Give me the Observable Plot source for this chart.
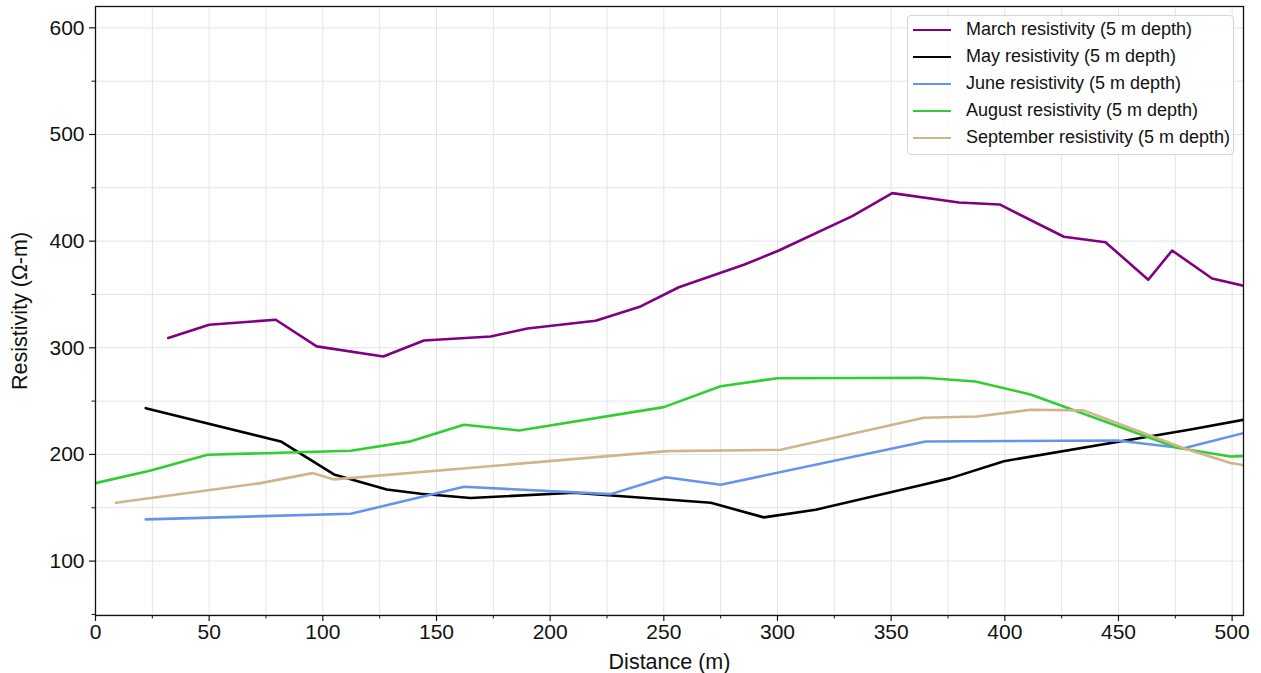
<!DOCTYPE html>
<html>
<head>
<meta charset="utf-8">
<script src="https://cdn.jsdelivr.net/npm/d3@7"></script>
<script src="https://cdn.jsdelivr.net/npm/@observablehq/plot@0.6"></script>
<style>
  html, body { margin: 0; padding: 0; background: #fff; }
  #wrap { position: relative; width: 1261px; height: 673px; font-family: "Liberation Sans", Arial, sans-serif; }
  #legend { position: absolute; left: 907px; top: 15px; width: 327px; height: 140px; box-sizing: border-box;
    border: 1px solid #d4d4d4; border-radius: 4px; background: rgba(255,255,255,0.85); padding: 0 0 0 5px; }
  .row { height: 27px; display: flex; align-items: center; font-size: 18px; color: #111; white-space: nowrap; }
  .sw { width: 38px; height: 0; border-top: 2.6px solid #000; margin-right: 15px; }
</style>
</head>
<body>
<div id="wrap"><div id="legend"></div></div>
<script>
// ---- data ----
const marchDist = [32, 50, 79.3, 97.3, 126.6, 144.5, 173.8, 190, 220, 239.8, 256.6, 285.2, 300.6, 332.9, 350.5, 379.8, 397.7, 426, 444.3, 463.1, 473.6, 491.2, 505];
const marchRes  = [309.2, 321.6, 326.3, 301.3, 291.9, 306.9, 310.6, 318.1, 325.3, 338.8, 356.8, 377.8, 391.2, 423.4, 445, 436.2, 434.4, 404.1, 399, 363.8, 391.2, 365, 358.2];

const mayDist = [22.1, 81.5, 104.9, 128.1, 143.1, 165, 210.5, 270.7, 294, 316.8, 364.4, 376.1, 399.6, 481.7, 505];
const mayRes  = [243.4, 212.2, 181.3, 167.2, 163.2, 159.1, 164.1, 154.7, 141, 148.2, 171.9, 177.8, 193.7, 223.4, 232.5];

const juneDist = [22.1, 112.3, 162.1, 226.6, 250.8, 275, 365.1, 449.4, 478.7, 505];
const juneRes  = [139.1, 144.4, 169.7, 162.8, 178.7, 171.6, 212.2, 213.1, 205.8, 220];

const augDist = [0, 24.3, 49.3, 112.3, 138, 162.1, 186.3, 250, 275, 299.9, 364.4, 387.1, 411.3, 425.9, 475.8, 499.3, 505];
const augRes  = [173.1, 185, 199.7, 203.5, 212, 227.9, 222.5, 244.4, 264, 271.5, 271.9, 268.4, 256.3, 245, 206.3, 198.1, 198.4];

const sepDist = [9, 72.7, 95.4, 104.9, 251.5, 301.4, 364.4, 387.9, 411.3, 434.7, 478.7, 499.3, 505];
const sepRes  = [154.7, 173.1, 182.5, 176.6, 203.1, 204.4, 234.4, 235.6, 241.9, 241.3, 205.8, 191.9, 190];

const seriesNames  = ["March resistivity (5 m depth)", "May resistivity (5 m depth)", "June resistivity (5 m depth)", "August resistivity (5 m depth)", "September resistivity (5 m depth)"];
const seriesColors = ["#800080", "#000000", "#6495ED", "#32CD32", "#D2B48C"];
const seriesDist = [marchDist, mayDist, juneDist, augDist, sepDist];
const seriesRes  = [marchRes, mayRes, juneRes, augRes, sepRes];

const xMajor = d3.range(0, 501, 50);
const xMinor = d3.range(25, 505, 50);
const yMajor = d3.range(100, 601, 100);
const yMinor = d3.range(50, 620, 100);
const xGrid = d3.range(0, 506, 25);
const yGrid = d3.range(50, 620, 50);

const lineMarks = seriesNames.map((name, k) => {
  const rows = seriesDist[k].map((d, i) => ({dist: d, res: seriesRes[k][i]}));
  return Plot.line(rows, {x: "dist", y: "res", stroke: seriesColors[k], strokeWidth: 2.6, clip: true});
});

const chart = Plot.plot({
  width: 1261,
  height: 673,
  marginLeft: 95,
  marginRight: 18,
  marginTop: 6,
  marginBottom: 58,
  style: {fontFamily: "'Liberation Sans', Arial, sans-serif", background: "transparent", color: "#111"},
  x: {domain: [0, 505]},
  y: {domain: [49, 620]},
  marks: [
    Plot.gridX(xGrid, {stroke: "#e4e4e4", strokeOpacity: 1, strokeWidth: 1}),
    Plot.gridY(yGrid, {stroke: "#e4e4e4", strokeOpacity: 1, strokeWidth: 1}),
    ...lineMarks,
    Plot.frame({stroke: "#111", strokeWidth: 1.3}),
    Plot.axisX(xMajor, {tickSize: 6, tickPadding: 3, fontSize: 21, tickFormat: d => String(d),
      label: "Distance (m)", labelAnchor: "center", labelArrow: "none", labelOffset: 53, strokeWidth: 1.2}),
    Plot.axisX(xMinor, {tickSize: 3.5, tickFormat: () => "", label: null, strokeWidth: 1}),
    Plot.axisY(yMajor, {tickSize: 6, tickPadding: 5, fontSize: 21, tickFormat: d => String(d),
      label: "Resistivity (Ω-m)", labelAnchor: "center", labelArrow: "none", labelOffset: 84, strokeWidth: 1.2}),
    Plot.axisY(yMinor, {tickSize: 3.5, tickFormat: () => "", label: null, strokeWidth: 1})
  ]
});

// axis label font size
chart.querySelectorAll("[aria-label='x-axis label'], [aria-label='y-axis label']").forEach(g => g.setAttribute("font-size", "21.5"));

const wrap = document.getElementById("wrap");
wrap.insertBefore(chart, wrap.firstChild);

const legend = d3.select("#legend");
seriesNames.forEach((name, k) => {
  const row = legend.append("div").attr("class", "row");
  row.append("div").attr("class", "sw").style("border-top-color", seriesColors[k]);
  row.append("span").text(name);
});
</script>
</body>
</html>
